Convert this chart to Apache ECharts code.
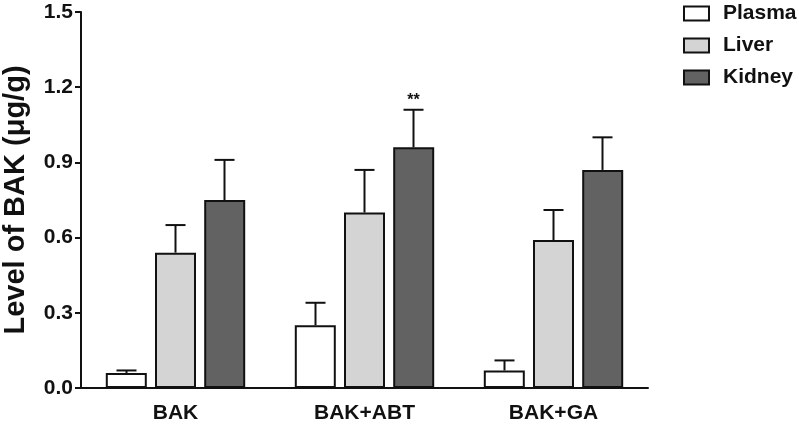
<!DOCTYPE html>
<html>
<head>
<meta charset="utf-8">
<script src="https://cdn.jsdelivr.net/npm/echarts@6/dist/echarts.min.js"></script>
<style>html,body{margin:0;padding:0;background:#fff}#c{width:799px;height:427px}</style>
</head>
<body>
<div id="c"></div>
<script>
const categories = ['BAK', 'BAK+ABT', 'BAK+GA'];
const seriesNames = ['Plasma', 'Liver', 'Kidney'];
const plasma = [0.06, 0.25, 0.07];
const liver = [0.54, 0.70, 0.59];
const kidney = [0.75, 0.96, 0.87];
const plasmaSD = [0.01, 0.09, 0.04];
const liverSD = [0.11, 0.17, 0.12];
const kidneySD = [0.16, 0.15, 0.13];
const kidneyMarks = ['', '**', ''];
const yTicks = [0.0, 0.3, 0.6, 0.9, 1.2, 1.5];

const FONT = '"Liberation Sans", Arial, Helvetica, sans-serif';
const colors = ['#ffffff', '#d4d4d4', '#626262'];
const BAR_W = 41, BAR_STEP = 49;
const means = [plasma, liver, kidney];
const sds = [plasmaSD, liverSD, kidneySD];
const marks = [['', '', ''], ['', '', ''], kidneyMarks];

const chart = echarts.init(document.getElementById('c'), null, {renderer: 'canvas'});

const bars = seriesNames.map((n, i) => ({
  name: n, type: 'bar', data: means[i], barWidth: BAR_W, barGap: '20%',
  itemStyle: {color: colors[i], borderColor: '#111', borderWidth: 2},
  z: 2
}));

const errData = [];
means.forEach((arr, s) => arr.forEach((v, c) => errData.push([c, v, sds[s][c], s, marks[s][c]])));

const errSeries = {
  type: 'custom', z: 5, silent: true,
  data: errData,
  encode: {x: 0, y: 1},
  renderItem: function (params, api) {
    const c = api.value(0), v = api.value(1), sd = api.value(2), s = api.value(3);
    const off = (s - 1) * BAR_STEP;
    const p0 = api.coord([c, v]);
    const p1 = api.coord([c, v + sd]);
    const x = p0[0] + off;
    const children = [
      {type: 'line', shape: {x1: x, y1: p0[1], x2: x, y2: p1[1]}, style: {stroke: '#111', lineWidth: 2}},
      {type: 'line', shape: {x1: x - 10, y1: p1[1], x2: x + 10, y2: p1[1]}, style: {stroke: '#111', lineWidth: 2}}
    ];
    const m = errData[params.dataIndex][4];
    if (m) {
      children.push({type: 'text', style: {text: m, x: x, y: p1[1] - 1, align: 'center', verticalAlign: 'bottom',
        font: 'bold 16px ' + FONT, fill: '#111'}});
    }
    return {type: 'group', children: children};
  }
};

chart.setOption({
  animation: false,
  backgroundColor: '#fff',
  grid: {left: 81, right: 151, top: 12, bottom: 39, containLabel: false, outerBoundsMode: 'none'},
  legend: {
    data: seriesNames, orient: 'vertical', left: 683, top: 3, padding: 0,
    itemWidth: 25, itemHeight: 14, itemGap: 11, icon: 'rect',
    textStyle: {fontFamily: FONT, fontWeight: 'bold', fontSize: 21, color: '#111', padding: [0, 0, 0, 9]}
  },
  xAxis: {
    type: 'category', data: categories,
    axisLine: {lineStyle: {color: '#111', width: 2}},
    axisTick: {show: false},
    axisLabel: {fontFamily: FONT, fontWeight: 'bold', fontSize: 21, color: '#111', margin: 15}
  },
  yAxis: {
    type: 'value', min: 0, max: 1.5, interval: 0.3,
    name: 'Level of BAK (μg/g)', nameLocation: 'middle', nameGap: 51,
    nameTextStyle: {fontFamily: FONT, fontWeight: 'bold', fontSize: 29, color: '#111'},
    axisLine: {show: true, lineStyle: {color: '#111', width: 2}},
    axisTick: {show: true, length: 6, lineStyle: {color: '#111', width: 2}},
    splitLine: {show: false},
    axisLabel: {fontFamily: FONT, fontWeight: 'bold', fontSize: 21, color: '#111', margin: 8,
      formatter: v => yTicks.find(t => Math.abs(t - v) < 1e-9) !== undefined ? v.toFixed(1) : ''}
  },
  series: bars.concat([errSeries])
});
</script>
</body>
</html>
